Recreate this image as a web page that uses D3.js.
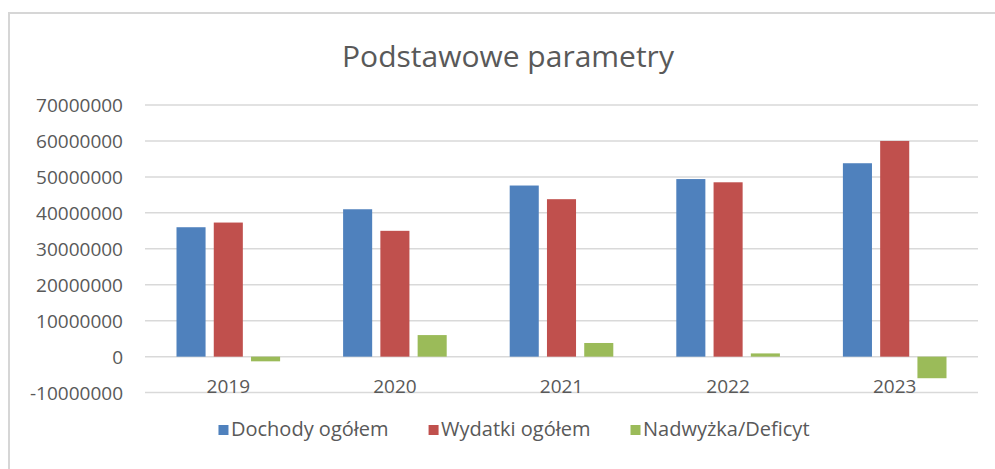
<!DOCTYPE html>
<html>
<head>
<meta charset="utf-8">
<script src="https://cdn.jsdelivr.net/npm/d3@7"></script>
<style>
  html, body { margin: 0; padding: 0; background: #fff; }
  svg { display: block; }
  text { font-family: "Open Sans", sans-serif; fill: #595959; }
</style>
</head>
<body>
<svg id="chart" width="995" height="469"></svg>
<script>
const title = "Podstawowe parametry";
const categories = ["2019", "2020", "2021", "2022", "2023"];
const seriesNames = ["Dochody ogółem", "Wydatki ogółem", "Nadwyżka/Deficyt"];
const dochody = [36000000, 41000000, 47600000, 49400000, 53800000];
const wydatki = [37300000, 35000000, 43800000, 48500000, 60000000];
const nadwyzka = [-1300000, 6000000, 3800000, 900000, -6000000];
const yTicks = [-10000000, 0, 10000000, 20000000, 30000000, 40000000, 50000000, 60000000, 70000000];
const colors = ["#4F81BD", "#C0504D", "#9BBB59"];

const seriesValues = [dochody, wydatki, nadwyzka];
const svg = d3.select("#chart");

// outer chart border
svg.append("rect")
  .attr("x", 9).attr("y", 13)
  .attr("width", 1000).attr("height", 470)
  .attr("fill", "#fff")
  .attr("stroke", "#d6d6d6").attr("stroke-width", 2);

const plot = { left: 145, right: 978, top: 105, bottom: 392.6 };

const y = d3.scaleLinear().domain([-10000000, 70000000]).range([plot.bottom, plot.top]);
const x = d3.scaleBand().domain(categories).range([plot.left, plot.right]).paddingInner(0).paddingOuter(0);
const inner = d3.scaleBand().domain(seriesNames)
  .range([31.5, x.bandwidth() - 31.5]).paddingInner(0.22).paddingOuter(0);

// gridlines
svg.append("g").selectAll("line").data(yTicks).join("line")
  .attr("x1", plot.left).attr("x2", plot.right)
  .attr("y1", d => y(d)).attr("y2", d => y(d))
  .attr("stroke", "#d9d9d9").attr("stroke-width", 1.5);

// y axis labels
const yAxis = d3.axisLeft(y).tickValues(yTicks).tickSize(0).tickPadding(0).tickFormat(d => String(d));
const yg = svg.append("g").attr("transform", "translate(123,0)").call(yAxis);
yg.select(".domain").remove();
yg.selectAll("text").style("font-size", "19px").attr("fill", "#595959")
  .style("font-family", "'Open Sans', sans-serif").attr("dy", "0.35em");

// bars
const groups = svg.append("g").selectAll("g").data(categories).join("g")
  .attr("transform", d => `translate(${x(d)},0)`);
groups.selectAll("rect")
  .data((d, i) => seriesNames.map((s, j) => ({ s, j, v: seriesValues[j][i] })))
  .join("rect")
  .attr("x", d => inner(d.s))
  .attr("width", inner.bandwidth())
  .attr("y", d => Math.min(y(d.v), y(0)))
  .attr("height", d => Math.abs(y(d.v) - y(0)))
  .attr("fill", d => colors[d.j]);

// category labels
const xAxis = d3.axisBottom(x).tickSize(0).tickPadding(0);
const xg = svg.append("g").attr("transform", "translate(0,393)").call(xAxis);
xg.select(".domain").remove();
xg.selectAll("text").style("font-size", "19px").attr("fill", "#595959")
  .style("font-family", "'Open Sans', sans-serif").attr("dy", "0").attr("y", 0);

// title
svg.append("text")
  .attr("x", 508).attr("y", 67)
  .attr("text-anchor", "middle")
  .style("font-size", "30px")
  .text(title);

// legend
const legend = svg.append("g");
const items = legend.selectAll("g").data(seriesNames).join("g");
items.append("rect").attr("width", 10).attr("height", 10).attr("y", 425)
  .attr("fill", (d, i) => colors[i]);
items.append("text").attr("x", 12.5).attr("y", 436).style("font-size", "20px").text(d => d);
let widths = [];
items.each(function() { widths.push(12.5 + d3.select(this).select("text").node().getComputedTextLength()); });
const gap = 40;
const total = d3.sum(widths) + gap * (widths.length - 1);
let cx = 514 - total / 2;
items.attr("transform", (d, i) => { const t = `translate(${cx},0)`; cx += widths[i] + gap; return t; });
</script>
</body>
</html>
